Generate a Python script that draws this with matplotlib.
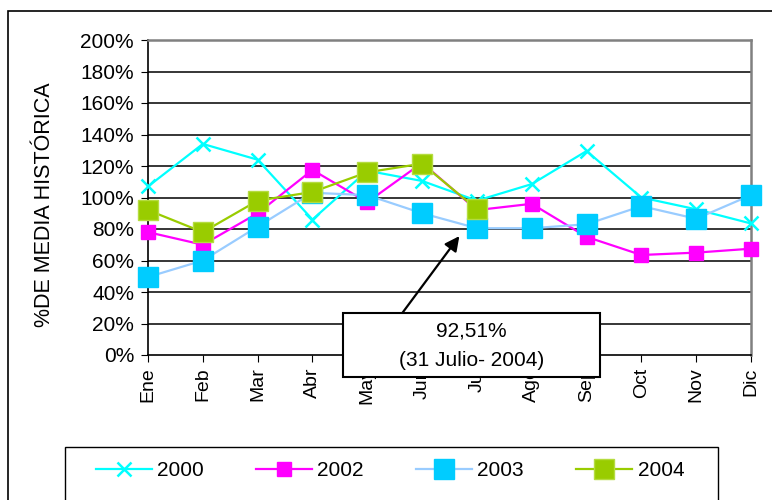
import matplotlib
matplotlib.use("Agg")
import matplotlib.pyplot as plt
from matplotlib.patches import Rectangle
from matplotlib.ticker import FuncFormatter

plt.rcParams['font.family'] = ['Liberation Sans', 'DejaVu Sans']

meses = ["Ene", "Feb", "Mar", "Abr", "May", "Jun", "Jul", "Ago", "Sep", "Oct", "Nov", "Dic"]

# % de media historica por mes
v2000 = [107, 134, 124, 86, 117, 110.5, 98, 108.5, 129.5, 100, 92.5, 83.5]
v2002 = [78, 70, 90, 117.5, 97, 122, 92, 96, 75, 63.5, 65, 67.5]
v2003 = [49.5, 60, 81.5, 103, 101.5, 90, 80.5, 80.5, 83, 94.5, 86.5, 101.5]
v2004 = [92, 78, 98, 103.5, 116, 121.5, 92.51]

nota = "92,51%\n(31 Julio- 2004)"

fig = plt.figure(figsize=(7.72, 5.0), dpi=100)
W, H = 772.0, 500.0

# marco exterior del grafico
fig.patches.append(Rectangle((8 / W, -0.1), 2.0, 1 - 11 / H + 0.1, transform=fig.transFigure,
                             fill=False, edgecolor='black', lw=1.2))

ax = fig.add_axes([148 / W, 1 - 355 / H, (751 - 148) / W, (355 - 40) / H])

x = list(range(len(meses)))
ax.plot(x, v2000, color='#00FFFF', lw=1.6, marker='x', ms=10, mew=1.8, clip_on=False, zorder=3, label='2000')
ax.plot(x, v2002, color='#FF00FF', lw=1.6, marker='s', ms=9.5, mec='#FF00FF', clip_on=False, zorder=3, label='2002')
ax.plot(x, v2003, color='#99CCFF', lw=1.6, marker='s', ms=15, mfc='#00CCFF', mec='#00CCFF', clip_on=False, zorder=3, label='2003')
ax.plot(x[:len(v2004)], v2004, color='#99CC00', lw=1.6, marker='s', ms=14.5, mfc='#99CC00', mec='#B5DC40', clip_on=False, zorder=3, label='2004')

ax.set_xlim(0, len(meses) - 1)
ax.set_ylim(0, 200)
ax.set_yticks(range(0, 201, 20))
ax.yaxis.set_major_formatter(FuncFormatter(lambda v, p: "%d%%" % v))
ax.set_xticks(x)
ax.set_xticklabels(meses, rotation=90, fontsize=14)
ax.tick_params(axis='y', labelsize=15, length=5, direction='out', pad=5)
ax.tick_params(axis='x', length=5, direction='out', pad=4)

for g in range(20, 200, 20):
    ax.axhline(g, color='black', lw=1.1, zorder=1)

for s in ['top', 'right']:
    ax.spines[s].set_color('#808080')
    ax.spines[s].set_linewidth(1.8)
ax.spines['left'].set_linewidth(1.2)
ax.spines['bottom'].set_linewidth(1.2)

ax.set_ylabel("%DE MEDIA HISTÓRICA", fontsize=15.5, va='center')
ax.yaxis.set_label_coords(-(148 - 45) / (751 - 148), 0.476)

# cuadro de la nota
ax.add_patch(Rectangle((3.557, -14), 4.69, 40.7, facecolor='white', edgecolor='black',
                       lw=1.5, clip_on=False, zorder=6))
lineas = nota.split("\n")
ax.text(5.90, 15.2, lineas[0], ha='center', va='center', fontsize=15, zorder=7, clip_on=False)
ax.text(5.90, -3.2, lineas[1], ha='center', va='center', fontsize=15, zorder=7, clip_on=False)
ax.annotate('', xy=(5.68, 75.5), xytext=(4.64, 26.7),
            arrowprops=dict(arrowstyle='-|>', color='black', lw=1.6, mutation_scale=22,
                            shrinkA=0, shrinkB=0), zorder=7)

# leyenda
fig.patches.append(Rectangle((65 / W, -0.1), (718 - 65) / W, 1 - 447 / H + 0.1, transform=fig.transFigure,
                             fill=False, edgecolor='black', lw=1.0))
fig.legend(loc='center', bbox_to_anchor=(390 / W, 1 - 471 / H), ncol=4, frameon=False, fontsize=15,
           handlelength=2.7, handletextpad=0.25, columnspacing=2.5)

fig.savefig("out.png", dpi=100)
